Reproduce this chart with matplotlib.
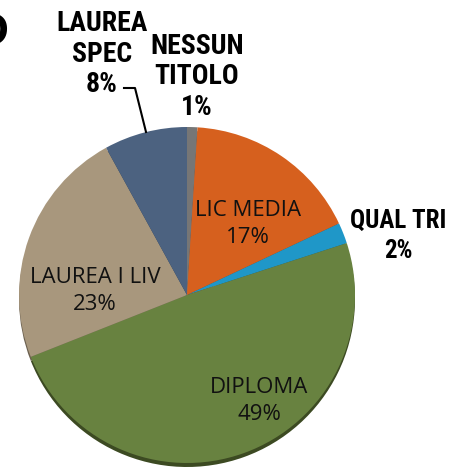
import matplotlib
matplotlib.use("Agg")
import matplotlib.pyplot as plt

categories = ["NESSUN TITOLO", "LIC MEDIA", "QUAL TRI", "DIPLOMA", "LAUREA I LIV", "LAUREA SPEC"]
values = [1, 17, 2, 49, 23, 8]
colors = ["#767676", "#D6601E", "#1F97C8", "#688240", "#A8977D", "#4C6280"]
shadow_colors = ["#4a4a4a", "#8a3c12", "#125f80", "#3c4a22", "#6b604f", "#2f3d50"]

narrow = ["Liberation Sans Narrow", "DejaVu Sans Condensed", "Roboto Condensed", "Liberation Sans"]
reg = ["Open Sans", "DejaVu Sans"]

W, H = 450, 477
fig = plt.figure(figsize=(4.5, 4.77), dpi=100)
ax = fig.add_axes([0, 0, 1, 1])

cx, cy, r = 187, H - 296, 168
# subtle 3D bottom edge
ax.pie(values, colors=shadow_colors, startangle=90, counterclock=False,
       center=(cx, cy - 4), radius=r, frame=True, wedgeprops=dict(linewidth=0))
ax.pie(values, colors=colors, startangle=90, counterclock=False,
       center=(cx, cy), radius=r, frame=True, wedgeprops=dict(linewidth=0))
ax.set_xlim(0, W)
ax.set_ylim(0, H)
ax.set_aspect("equal")
ax.axis("off")

def y(p):
    return H - p

inside = dict(family=reg, fontsize=16, ha="center", va="center", color="#111111", linespacing=1.4)
outside = dict(family=narrow, fontsize=20, fontweight="bold", ha="center", va="center",
               color="#000000", linespacing=1.15)

ax.text(248, y(224), f"{categories[1]}\n{values[1]}%", **inside)
ax.text(259, y(401), f"{categories[3]}\n{values[3]}%", **inside)
ax.text(95, y(291), f"{categories[4]}\n{values[4]}%", **inside)

ax.text(102, y(54), f"LAUREA\nSPEC\n{values[5]}%", **outside)
ax.text(197, y(77), f"NESSUN\nTITOLO\n{values[0]}%", **outside)
ax.text(398, y(236), f"{categories[2]}\n{values[2]}%", **{**outside, "fontsize": 18, "linespacing": 1.3})

# leader line for LAUREA SPEC
ax.plot([124, 135, 146], [y(89), y(89), y(133)], color="black", lw=1.5)

# clipped panel letter at top-left
ax.text(-25, y(33), "D", family=["Liberation Sans", "DejaVu Sans"], fontsize=34,
        fontweight="bold", ha="left", va="center")

fig.savefig("out.png", dpi=100)
